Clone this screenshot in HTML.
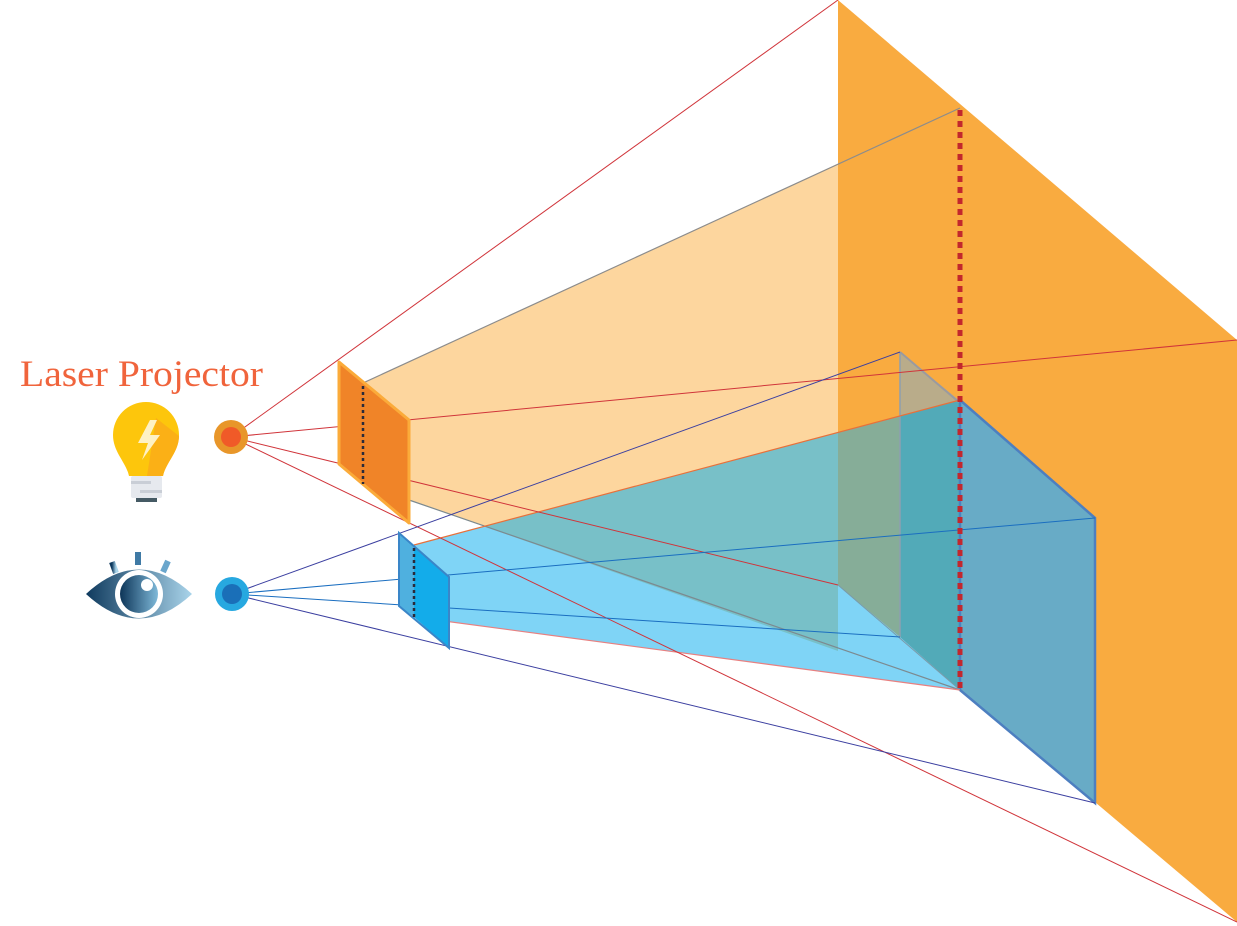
<!DOCTYPE html>
<html><head><meta charset="utf-8"><style>
html,body{margin:0;padding:0;background:#fff;}
svg{display:block;}
</style></head><body>
<svg width="1237" height="926" viewBox="0 0 1237 926" xmlns="http://www.w3.org/2000/svg">
<defs>
<clipPath id="pale"><polygon points="363,383 838,164 838,651 409,500"/></clipPath>
<linearGradient id="eg" x1="0" x2="1" y1="0" y2="0"><stop offset="0" stop-color="#0f3a5e"/><stop offset="1" stop-color="#a9d4ea"/></linearGradient>
<linearGradient id="ig" x1="0" x2="1" y1="0" y2="0"><stop offset="0" stop-color="#0d3558"/><stop offset="1" stop-color="#7fb9d9"/></linearGradient>
</defs>
<polygon points="838,0 1237,340 1237,922 838,585" fill="#f9ab40"/>
<polygon points="363,383 838,164 838,651 409,500" fill="#fdd69e"/>
<polygon points="838,585 960,690 960,690 900,673" fill="#fdd69e"/>
<polygon points="414,545 960,400 960,690 414,617" fill="#7fd4f6"/>
<polygon points="414,545 960,400 960,690 414,617" fill="#78c0c8" clip-path="url(#pale)"/>
<polygon points="838,432 900,416 900,637 838,585" fill="#86ad98"/>
<polygon points="900,352 960,401 900,416" fill="#b9ac8a"/>
<polygon points="900,416 960,400 960,690 900,637" fill="#52aab8"/>
<line x1="900" y1="352" x2="900" y2="637" stroke="#8e9fb0" stroke-width="1.5"/>
<line x1="900" y1="352" x2="960" y2="403" stroke="#9a9aa0" stroke-width="2"/>
<line x1="838" y1="585" x2="960" y2="690" stroke="#7a9aa8" stroke-width="1"/>
<polygon points="960,400 1095,518 1095,803 960,690" fill="#68abc6" stroke="#4d7fc0" stroke-width="2.5"/>
<line x1="363" y1="383" x2="960" y2="108" stroke="#8c8c8c" stroke-width="1.2"/>
<line x1="409" y1="500" x2="960" y2="690" stroke="#7c8a90" stroke-width="1.2"/>
<line x1="414" y1="545" x2="960" y2="400" stroke="#e8703a" stroke-width="1.2"/>
<line x1="414" y1="617" x2="960" y2="690" stroke="#e88080" stroke-width="1.2"/>
<g stroke="#d0343a" stroke-width="1">
<line x1="231" y1="437" x2="838" y2="0"/>
<line x1="231" y1="437" x2="1237" y2="340"/>
<line x1="231" y1="437" x2="838" y2="585"/>
<line x1="231" y1="437" x2="1237" y2="922"/>
</g>
<g stroke-width="1">
<line x1="232" y1="594" x2="900" y2="352" stroke="#3b3fa0"/>
<line x1="232" y1="594" x2="1095" y2="518" stroke="#1a6ec0"/>
<line x1="232" y1="594" x2="900" y2="637" stroke="#1a6ec0"/>
<line x1="232" y1="594" x2="1095" y2="803" stroke="#3b3fa0"/>
</g>
<line x1="960" y1="110" x2="960" y2="690" stroke="#c2272d" stroke-width="5" stroke-dasharray="6 5"/>
<polygon points="339,362 409,420 409,523 339,464" fill="#f08428" stroke="#fbab3a" stroke-width="3" stroke-linejoin="round"/>
<line x1="363" y1="386" x2="363" y2="484" stroke="#2a2a3a" stroke-width="2.5" stroke-dasharray="3 3"/>
<polygon points="399,533 414,545 414,617 399,606" fill="#4fb0df"/>
<polygon points="414,545 449,577 449,648 414,617" fill="#13acea"/>
<polygon points="399,533 449,577 449,648 399,606" fill="none" stroke="#3a86c8" stroke-width="2"/>
<line x1="414" y1="548" x2="414" y2="617" stroke="#2a2a3a" stroke-width="2.5" stroke-dasharray="3 3"/>
<circle cx="231" cy="437" r="17" fill="#e8962a"/>
<circle cx="231" cy="437" r="10" fill="#f05a28"/>
<circle cx="232" cy="594" r="17" fill="#27a8e0"/>
<circle cx="232" cy="594" r="10" fill="#1a6fb8"/>
<text x="20" y="386" font-family="Liberation Serif, serif" font-size="37" fill="#f0643c" textLength="243" lengthAdjust="spacingAndGlyphs">Laser Projector</text>
<!-- bulb -->
<path d="M113,435 A33,33 0 1 1 179,435 C179,452 166,462 163,476 L129,476 C126,462 113,452 113,435 Z" fill="#fdc60c"/>
<path d="M156,418 L179,436 C179,452 166,462 163,476 L147,476 Z" fill="#fbb016"/>
<path d="M150,420 L138,443 L148,443 L142,460 L160,435 L150,435 L157,420 Z" fill="#fef1c4"/>
<rect x="131" y="476" width="31" height="22" rx="2" fill="#e6e9ee"/>
<rect x="131" y="481" width="20" height="3" fill="#c9ced6"/>
<rect x="140" y="490" width="22" height="3" fill="#c9ced6"/>
<rect x="136" y="498" width="21" height="4" fill="#455a64"/>
<!-- eye -->
<line x1="112" y1="562" x2="116" y2="573" stroke="url(#eg)" stroke-width="6"/>
<line x1="138" y1="552" x2="138" y2="565" stroke="#3f7aa5" stroke-width="6"/>
<line x1="168" y1="561" x2="163" y2="572" stroke="#6aa6cc" stroke-width="6"/>
<path d="M86,594 Q139,545 192,594 Q139,643 86,594 Z" fill="url(#eg)"/>
<circle cx="139" cy="594" r="24" fill="#fff"/>
<circle cx="139" cy="594" r="19" fill="url(#ig)"/>
<circle cx="147" cy="585" r="6" fill="#fff"/>
</svg>
</body></html>
